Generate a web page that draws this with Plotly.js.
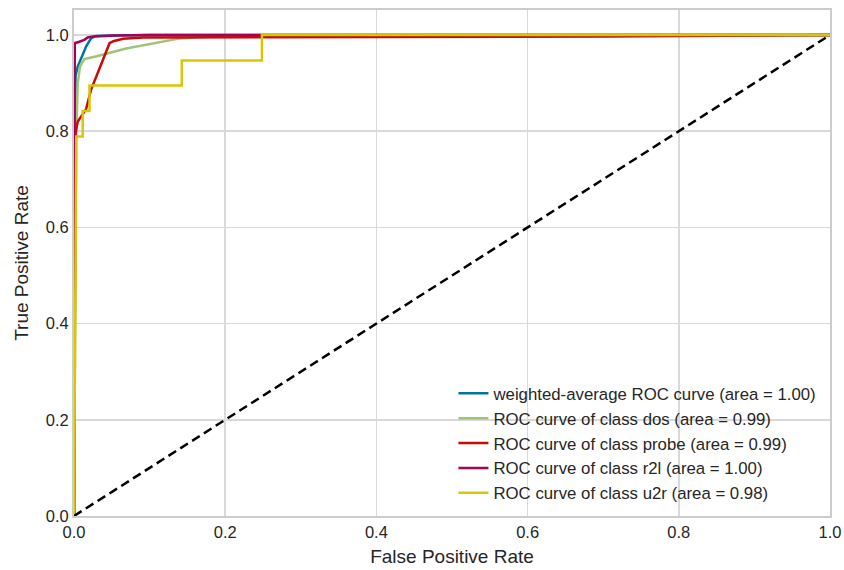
<!DOCTYPE html>
<html>
<head>
<meta charset="utf-8">
<script src="https://cdn.plot.ly/plotly-3.0.1.min.js"></script>
<style>
  html, body { margin: 0; padding: 0; background: #ffffff; }
  #chart { width: 844px; height: 570px; }
</style>
</head>
<body>
<div id="chart"></div>
<script>
// ----- Data -----
const seriesNames = [
  "weighted-average ROC curve (area = 1.00)",
  "ROC curve of class dos (area = 0.99)",
  "ROC curve of class probe (area = 0.99)",
  "ROC curve of class r2l (area = 1.00)",
  "ROC curve of class u2r (area = 0.98)"
];

const weightedFpr = [0, 0.001, 0.002, 0.005, 0.0093, 0.016, 0.0225, 0.029, 0.05, 0.1, 1.0];
const weightedTpr = [0, 0.80, 0.915, 0.935, 0.952, 0.976, 0.993, 0.998, 0.999, 1.0, 1.0];

const dosFpr = [0, 0.001, 0.002, 0.003, 0.005, 0.008, 0.0137, 0.03, 0.069, 0.14, 0.2, 1.0];
const dosTpr = [0, 0.30, 0.60, 0.80, 0.90, 0.935, 0.950, 0.956, 0.972, 0.993, 0.999, 1.0];

const probeFpr = [0, 0.001, 0.002, 0.005, 0.0115, 0.016, 0.0225, 0.035, 0.047, 0.052, 0.065, 0.091, 0.3, 0.7, 1.0];
const probeTpr = [0, 0.60, 0.796, 0.82, 0.834, 0.846, 0.886, 0.935, 0.983, 0.987, 0.992, 0.995, 0.996, 0.997, 1.0];

const r2lFpr = [0, 0.001, 0.007, 0.0137, 0.018, 0.025, 0.056, 0.1, 1.0];
const r2lTpr = [0, 0.983, 0.986, 0.99, 0.995, 0.997, 0.999, 1.0, 1.0];

const u2rFpr = [0, 0.003, 0.0115, 0.0115, 0.0205, 0.0205, 0.1426, 0.1426, 0.2486, 0.2486, 1.0];
const u2rTpr = [0, 0.789, 0.789, 0.842, 0.842, 0.895, 0.895, 0.947, 0.947, 1.0, 1.0];

const diagX = [0, 1];
const diagY = [0, 1];

const xTickVals = [0, 0.2, 0.4, 0.6, 0.8, 1.0];
const xTickText = ["0.0", "0.2", "0.4", "0.6", "0.8", "1.0"];
const yTickVals = [0, 0.2, 0.4, 0.6, 0.8, 1.0];
const yTickText = ["0.0", "0.2", "0.4", "0.6", "0.8", "1.0"];

// ----- Styling -----
const colors = ["#0272a2", "#9fc377", "#ca0b03", "#a50258", "#d7c703"];
const font = "Liberation Sans, Arial, sans-serif";
const xs = [weightedFpr, dosFpr, probeFpr, r2lFpr, u2rFpr];
const ys = [weightedTpr, dosTpr, probeTpr, r2lTpr, u2rTpr];

const traces = seriesNames.map((name, i) => ({
  type: "scatter",
  mode: "lines",
  x: xs[i],
  y: ys[i],
  name: name,
  line: { color: colors[i], width: 2.5 },
  hoverinfo: "skip"
}));

traces.push({
  type: "scatter",
  mode: "lines",
  x: diagX,
  y: diagY,
  showlegend: false,
  line: { color: "#000000", width: 2.5, dash: "9px,5px" },
  hoverinfo: "skip"
});

const layout = {
  width: 844,
  height: 570,
  margin: { l: 74, r: 14, t: 10, b: 54 },
  paper_bgcolor: "#ffffff",
  plot_bgcolor: "#ffffff",
  font: { family: font, size: 16, color: "#262626" },
  showlegend: true,
  legend: {
    x: 0.99, xanchor: "right",
    y: 0.01, yanchor: "bottom",
    bgcolor: "rgba(0,0,0,0)",
    tracegroupgap: 0,
    font: { family: font, size: 16.8, color: "#262626" }
  },
  xaxis: {
    range: [0, 1],
    tickvals: xTickVals,
    ticktext: xTickText,
    showgrid: true,
    gridcolor: "#d9d9d9",
    gridwidth: 1.5,
    zeroline: false,
    showline: true,
    linecolor: "#cccccc",
    linewidth: 2,
    mirror: true,
    ticks: "",
    tickfont: { family: font, size: 16.5, color: "#262626" },
    title: { text: "False Positive Rate", font: { family: font, size: 19, color: "#262626" }, standoff: 10 }
  },
  yaxis: {
    range: [0, 1.052],
    tickvals: yTickVals,
    ticktext: yTickText,
    showgrid: true,
    gridcolor: "#d9d9d9",
    gridwidth: 1.5,
    zeroline: false,
    showline: true,
    linecolor: "#cccccc",
    linewidth: 2,
    mirror: true,
    ticks: "",
    tickfont: { family: font, size: 16.5, color: "#262626" },
    title: { text: "True Positive Rate", font: { family: font, size: 19, color: "#262626" }, standoff: 12 }
  }
};

Plotly.newPlot("chart", traces, layout, { staticPlot: true, displayModeBar: false });
</script>
</body>
</html>
